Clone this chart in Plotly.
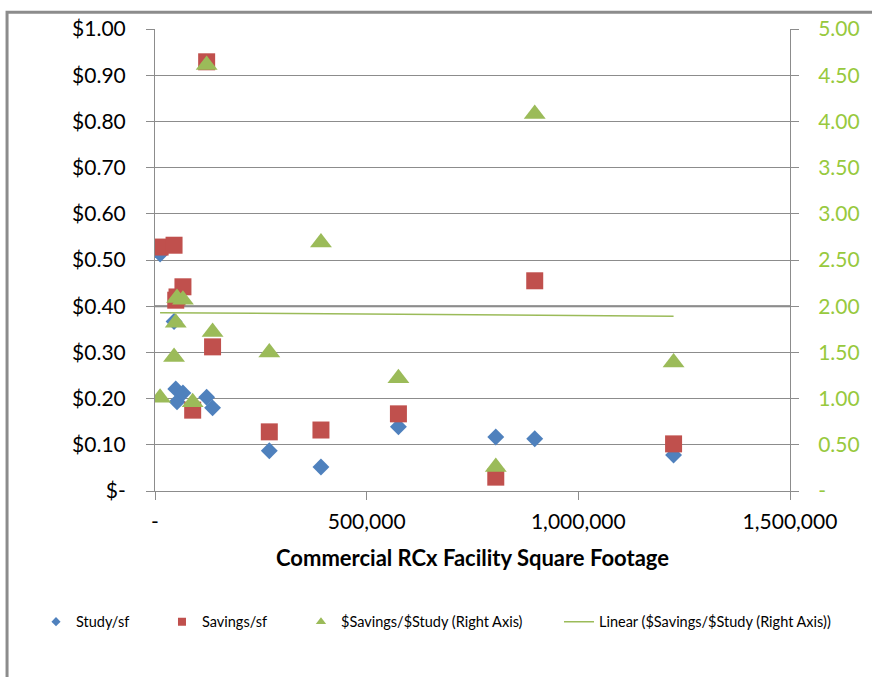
import numpy as np
import plotly.graph_objects as go

# Facility square footage (commercial RCx projects)
sq_ft = [12000, 45000, 49000, 52000, 66000, 89000, 122000, 136000,
         270000, 392000, 575000, 805000, 897000, 1225000]
# Study cost per square foot ($)
study_sf = [0.513, 0.367, 0.221, 0.193, 0.212, 0.186, 0.203, 0.180,
            0.087, 0.052, 0.139, 0.117, 0.113, 0.078]
# Savings per square foot ($)
savings_sf = [0.528, 0.532, 0.413, 0.420, 0.442, 0.175, 0.929, 0.312,
              0.128, 0.132, 0.167, 0.030, 0.455, 0.102]
# Savings-to-study ratio (right axis)
ratio = [1.01, 1.45, 1.82, 2.09, 2.07, 0.96, 4.61, 1.72,
         1.50, 2.69, 1.22, 0.26, 4.08, 1.39]

y_ticks = [0, 0.1, 0.2, 0.3, 0.4, 0.5, 0.6, 0.7, 0.8, 0.9, 1.0]
y_ticktext = ["$-", "$0.10", "$0.20", "$0.30", "$0.40", "$0.50",
              "$0.60", "$0.70", "$0.80", "$0.90", "$1.00"]
y2_ticks = [0, 0.5, 1.0, 1.5, 2.0, 2.5, 3.0, 3.5, 4.0, 4.5, 5.0]
y2_ticktext = ["-", "0.50", "1.00", "1.50", "2.00", "2.50",
               "3.00", "3.50", "4.00", "4.50", "5.00"]
x_ticks = [0, 500000, 1000000, 1500000]
x_ticktext = ["-", "500,000", "1,000,000", "1,500,000"]

BLUE = "#4F81BD"
RED = "#C0504D"
GREEN = "#9BBB59"
AXIS_GREEN = "#97C93D"
GRID = "#8C8C8C"
FONT = "Lato"

# least-squares trend of the ratio against facility size
slope, intercept = np.polyfit(sq_ft, ratio, 1)
trend_x = [min(sq_ft), max(sq_ft)]
trend_y = [slope * v + intercept for v in trend_x]

fig = go.Figure()
fig.add_trace(go.Scatter(
    x=sq_ft, y=study_sf, mode="markers", showlegend=False,
    marker=dict(symbol="diamond", size=13, color=BLUE)))
fig.add_trace(go.Scatter(
    x=sq_ft, y=savings_sf, mode="markers", showlegend=False,
    marker=dict(symbol="square", size=17, color=RED)))
fig.add_trace(go.Scatter(
    x=sq_ft, y=ratio, mode="markers", showlegend=False,
    yaxis="y2", marker=dict(symbol="triangle-up", size=19, color=GREEN)))
fig.add_trace(go.Scatter(
    x=trend_x, y=trend_y, mode="lines", showlegend=False,
    yaxis="y2", line=dict(color=GREEN, width=1.5)))

# legend keys with small symbols, each in its own legend box
legend_keys = [
    ("Study/sf", dict(mode="markers", marker=dict(symbol="diamond", size=7, color=BLUE))),
    ("Savings/sf", dict(mode="markers", marker=dict(symbol="square", size=8, color=RED))),
    ("$Savings/$Study (Right Axis)",
     dict(mode="markers", marker=dict(symbol="triangle-up", size=9, color=GREEN))),
    ("Linear ($Savings/$Study (Right Axis))",
     dict(mode="lines", line=dict(color=GREEN, width=1.5))),
]
legend_names = ["legend", "legend2", "legend3", "legend4"]
legend_x = [-0.1874, 0.0110, 0.2299, 0.6362]
for (name, style), lg in zip(legend_keys, legend_names):
    fig.add_trace(go.Scatter(x=[None], y=[None], name=name, legend=lg,
                             showlegend=True, **style))

legend_layout = {}
for lg, lx in zip(legend_names, legend_x):
    legend_layout[lg] = dict(orientation="h", x=lx, xanchor="left",
                             y=-0.283, yanchor="middle",
                             bgcolor="rgba(0,0,0,0)",
                             font=dict(family=FONT, size=14.5, color="black"))

fig.update_layout(
    width=872, height=677,
    paper_bgcolor="white", plot_bgcolor="white",
    margin=dict(l=155, r=82, t=29, b=186),
    font=dict(family=FONT, color="black"),
    **legend_layout,
    xaxis=dict(range=[0, 1500000], tickvals=x_ticks, ticktext=x_ticktext,
               showgrid=False, zeroline=False,
               showline=True, linecolor=GRID, linewidth=1,
               ticks="outside", ticklen=8, tickcolor=GRID,
               ticklabelstandoff=4,
               tickfont=dict(size=21, family=FONT),
               title=dict(text="<b>Commercial RCx Facility Square Footage</b>",
                          font=dict(size=22, family=FONT), standoff=18)),
    yaxis=dict(range=[0, 1.0], tickvals=y_ticks, ticktext=y_ticktext,
               showgrid=True, gridcolor=GRID, gridwidth=1, zeroline=False,
               showline=True, linecolor=GRID, linewidth=1,
               ticks="outside", ticklen=8, tickcolor=GRID,
               ticklabelstandoff=16,
               tickfont=dict(size=21, family=FONT)),
    yaxis2=dict(range=[0, 5.0], tickvals=y2_ticks, ticktext=y2_ticktext,
                overlaying="y", side="right",
                showgrid=False, zeroline=False,
                showline=True, linecolor=GRID, linewidth=1,
                ticks="outside", ticklen=8, tickcolor=GRID,
                ticklabelstandoff=15,
                tickfont=dict(size=21, family=FONT, color=AXIS_GREEN)),
    shapes=[
        # heavier rule at the 0.40 / 2.00 level
        dict(type="line", xref="x", yref="y", x0=0, x1=1500000, y0=0.4, y1=0.4,
             line=dict(color="#7A7A7A", width=2), layer="below"),
        # chart-area frame
        dict(type="rect", xref="paper", yref="paper",
             x0=-0.233, x1=1.2, y0=-0.5, y1=1.036,
             line=dict(color="#8C8C8C", width=3)),
    ],
)

fig.write_html("out.html")
